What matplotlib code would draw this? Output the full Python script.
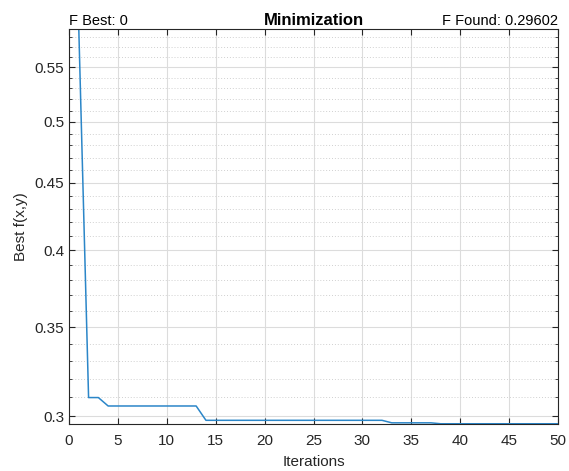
import matplotlib
matplotlib.use("Agg")
import matplotlib.pyplot as plt
from matplotlib.ticker import FixedLocator, FixedFormatter, NullFormatter

plt.rcParams['font.family'] = ['Liberation Sans', 'DejaVu Sans']

iterations = list(range(1, 51))
best_vals = ([0.5876] + [0.3098] * 2 + [0.3053] * 10 + [0.2978] * 19 +
             [0.2965] * 5 + [0.29602] * 13)

y_major = [0.3, 0.35, 0.4, 0.45, 0.5, 0.55]
y_major_labels = ["0.3", "0.35", "0.4", "0.45", "0.5", "0.55"]
y_minor = [round(0.30 + 0.01 * i, 2) for i in range(0, 29)]
x_ticks = [0, 5, 10, 15, 20, 25, 30, 35, 40, 45, 50]

fig = plt.figure(figsize=(5.69, 4.71), dpi=100)
ax = fig.add_axes([0.1213, 0.0998, 0.8594, 0.8386])
ax.plot(iterations, best_vals, color='#2b86c8', linewidth=1.1)
ax.set_yscale('log')
ax.set_xlim(0, 50)
ax.set_ylim(0.2959, 0.5876)

ax.yaxis.set_major_locator(FixedLocator(y_major))
ax.yaxis.set_major_formatter(FixedFormatter(y_major_labels))
ax.yaxis.set_minor_locator(FixedLocator([v for v in y_minor if v not in y_major]))
ax.yaxis.set_minor_formatter(NullFormatter())
ax.set_xticks(x_ticks)

ax.grid(True, which='major', color='#dcdcdc', linewidth=0.8, linestyle='-')
ax.grid(True, which='minor', color='#d0d0d0', linewidth=0.7, linestyle=(0, (1, 2)))
ax.set_axisbelow(True)

ax.tick_params(which='both', direction='in', top=True, right=True, labelsize=11, colors='#262626', length=4)
ax.tick_params(axis='x', pad=7)
ax.tick_params(which='minor', length=2)
for s in ax.spines.values():
    s.set_color('#262626')
    s.set_linewidth(0.8)

ax.set_xlabel('Iterations', fontsize=11, color='#262626', labelpad=5)
ax.set_ylabel('Best f(x,y)', fontsize=11, color='#262626', labelpad=5)
ax.set_title('Minimization', fontsize=12, fontweight='bold', loc='center', pad=6)
ax.set_title('F Best: 0', fontsize=10.5, loc='left', pad=3)
ax.set_title('F Found: 0.29602', fontsize=10.5, loc='right', pad=3)

fig.savefig('out.png', dpi=100)
